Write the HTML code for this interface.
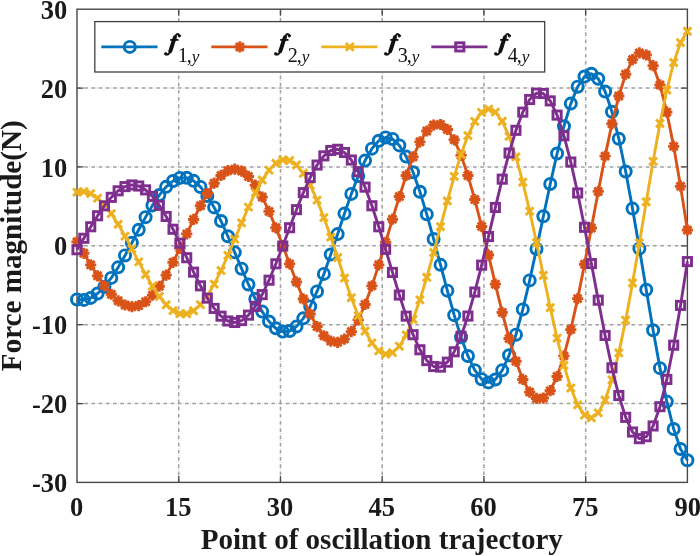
<!DOCTYPE html><html><head><meta charset="utf-8"><style>html,body{margin:0;padding:0;background:#fff}</style></head><body><svg width="700" height="556" viewBox="0 0 700 556" style="display:block;will-change:transform;opacity:0.999;font-family:'Liberation Serif',serif"><rect width="700" height="556" fill="#fff"/><path d="M178.73 482.4V9.2M280.47 482.4V9.2M382.20 482.4V9.2M483.93 482.4V9.2M585.67 482.4V9.2M77.0 403.53H687.4M77.0 324.67H687.4M77.0 245.80H687.4M77.0 166.93H687.4M77.0 88.07H687.4" stroke="#a0a0a0" stroke-width="1.5" stroke-dasharray="3.7 1.6 0.3 1.6" fill="none"/><rect x="77.0" y="9.2" width="610.4" height="473.2" fill="none" stroke="#484848" stroke-width="1.4"/><path d="M178.73 482.4v-6.5M178.73 9.2v6.5M280.47 482.4v-6.5M280.47 9.2v6.5M382.20 482.4v-6.5M382.20 9.2v6.5M483.93 482.4v-6.5M483.93 9.2v6.5M585.67 482.4v-6.5M585.67 9.2v6.5M77.0 403.53h6.5M687.4 403.53h-6.5M77.0 324.67h6.5M687.4 324.67h-6.5M77.0 245.80h6.5M687.4 245.80h-6.5M77.0 166.93h6.5M687.4 166.93h-6.5M77.0 88.07h6.5M687.4 88.07h-6.5" stroke="#484848" stroke-width="1.3" fill="none"/><defs><clipPath id="c"><rect x="69.0" y="1.1999999999999993" width="626.4" height="489.2"/></clipPath></defs><g clip-path="url(#c)"><path d="M77.00 299.44L83.86 299.91L90.72 297.92L97.58 293.49L104.43 286.75L111.29 277.92L118.15 267.35L125.01 255.46L131.87 242.75L138.73 229.78L145.58 217.13L152.44 205.39L159.30 195.12L166.16 186.84L173.02 180.99L179.88 177.91L186.73 177.83L193.59 180.85L200.45 186.93L207.31 195.89L214.17 207.41L221.03 221.05L227.89 236.25L234.74 252.36L241.60 268.68L248.46 284.48L255.32 299.01L262.18 311.58L269.04 321.53L275.89 328.35L282.75 331.62L289.61 331.07L296.47 326.61L303.33 318.33L310.19 306.47L317.04 291.47L323.90 273.91L330.76 254.51L337.62 234.10L344.48 213.58L351.34 193.88L358.20 175.93L365.05 160.59L371.91 148.66L378.77 140.79L385.63 137.46L392.49 138.97L399.35 145.40L406.20 156.61L413.06 172.26L419.92 191.75L426.78 214.33L433.64 239.05L440.50 264.87L447.36 290.63L454.21 315.17L461.07 337.31L467.93 355.98L474.79 370.21L481.65 379.21L488.51 382.41L495.36 379.48L502.22 370.35L509.08 355.25L515.94 334.68L522.80 309.40L529.66 280.42L536.51 248.94L543.37 216.32L550.23 184.02L557.09 153.51L563.95 126.25L570.81 103.59L577.67 86.69L584.52 76.53L591.38 73.77L598.24 78.77L605.10 91.55L611.96 111.77L618.82 138.76L625.67 171.48L632.53 208.62L639.39 248.64L646.25 289.80L653.11 330.25L659.97 368.13L666.82 401.62L673.68 429.06L680.54 449.00L687.40 460.30" stroke="#0072BD" stroke-width="2.9" fill="none" stroke-linejoin="round"/><circle cx="77.00" cy="299.44" r="5.55" fill="none" stroke="#0072BD" stroke-width="2.9"/><circle cx="83.86" cy="299.91" r="5.55" fill="none" stroke="#0072BD" stroke-width="2.9"/><circle cx="90.72" cy="297.92" r="5.55" fill="none" stroke="#0072BD" stroke-width="2.9"/><circle cx="97.58" cy="293.49" r="5.55" fill="none" stroke="#0072BD" stroke-width="2.9"/><circle cx="104.43" cy="286.75" r="5.55" fill="none" stroke="#0072BD" stroke-width="2.9"/><circle cx="111.29" cy="277.92" r="5.55" fill="none" stroke="#0072BD" stroke-width="2.9"/><circle cx="118.15" cy="267.35" r="5.55" fill="none" stroke="#0072BD" stroke-width="2.9"/><circle cx="125.01" cy="255.46" r="5.55" fill="none" stroke="#0072BD" stroke-width="2.9"/><circle cx="131.87" cy="242.75" r="5.55" fill="none" stroke="#0072BD" stroke-width="2.9"/><circle cx="138.73" cy="229.78" r="5.55" fill="none" stroke="#0072BD" stroke-width="2.9"/><circle cx="145.58" cy="217.13" r="5.55" fill="none" stroke="#0072BD" stroke-width="2.9"/><circle cx="152.44" cy="205.39" r="5.55" fill="none" stroke="#0072BD" stroke-width="2.9"/><circle cx="159.30" cy="195.12" r="5.55" fill="none" stroke="#0072BD" stroke-width="2.9"/><circle cx="166.16" cy="186.84" r="5.55" fill="none" stroke="#0072BD" stroke-width="2.9"/><circle cx="173.02" cy="180.99" r="5.55" fill="none" stroke="#0072BD" stroke-width="2.9"/><circle cx="179.88" cy="177.91" r="5.55" fill="none" stroke="#0072BD" stroke-width="2.9"/><circle cx="186.73" cy="177.83" r="5.55" fill="none" stroke="#0072BD" stroke-width="2.9"/><circle cx="193.59" cy="180.85" r="5.55" fill="none" stroke="#0072BD" stroke-width="2.9"/><circle cx="200.45" cy="186.93" r="5.55" fill="none" stroke="#0072BD" stroke-width="2.9"/><circle cx="207.31" cy="195.89" r="5.55" fill="none" stroke="#0072BD" stroke-width="2.9"/><circle cx="214.17" cy="207.41" r="5.55" fill="none" stroke="#0072BD" stroke-width="2.9"/><circle cx="221.03" cy="221.05" r="5.55" fill="none" stroke="#0072BD" stroke-width="2.9"/><circle cx="227.89" cy="236.25" r="5.55" fill="none" stroke="#0072BD" stroke-width="2.9"/><circle cx="234.74" cy="252.36" r="5.55" fill="none" stroke="#0072BD" stroke-width="2.9"/><circle cx="241.60" cy="268.68" r="5.55" fill="none" stroke="#0072BD" stroke-width="2.9"/><circle cx="248.46" cy="284.48" r="5.55" fill="none" stroke="#0072BD" stroke-width="2.9"/><circle cx="255.32" cy="299.01" r="5.55" fill="none" stroke="#0072BD" stroke-width="2.9"/><circle cx="262.18" cy="311.58" r="5.55" fill="none" stroke="#0072BD" stroke-width="2.9"/><circle cx="269.04" cy="321.53" r="5.55" fill="none" stroke="#0072BD" stroke-width="2.9"/><circle cx="275.89" cy="328.35" r="5.55" fill="none" stroke="#0072BD" stroke-width="2.9"/><circle cx="282.75" cy="331.62" r="5.55" fill="none" stroke="#0072BD" stroke-width="2.9"/><circle cx="289.61" cy="331.07" r="5.55" fill="none" stroke="#0072BD" stroke-width="2.9"/><circle cx="296.47" cy="326.61" r="5.55" fill="none" stroke="#0072BD" stroke-width="2.9"/><circle cx="303.33" cy="318.33" r="5.55" fill="none" stroke="#0072BD" stroke-width="2.9"/><circle cx="310.19" cy="306.47" r="5.55" fill="none" stroke="#0072BD" stroke-width="2.9"/><circle cx="317.04" cy="291.47" r="5.55" fill="none" stroke="#0072BD" stroke-width="2.9"/><circle cx="323.90" cy="273.91" r="5.55" fill="none" stroke="#0072BD" stroke-width="2.9"/><circle cx="330.76" cy="254.51" r="5.55" fill="none" stroke="#0072BD" stroke-width="2.9"/><circle cx="337.62" cy="234.10" r="5.55" fill="none" stroke="#0072BD" stroke-width="2.9"/><circle cx="344.48" cy="213.58" r="5.55" fill="none" stroke="#0072BD" stroke-width="2.9"/><circle cx="351.34" cy="193.88" r="5.55" fill="none" stroke="#0072BD" stroke-width="2.9"/><circle cx="358.20" cy="175.93" r="5.55" fill="none" stroke="#0072BD" stroke-width="2.9"/><circle cx="365.05" cy="160.59" r="5.55" fill="none" stroke="#0072BD" stroke-width="2.9"/><circle cx="371.91" cy="148.66" r="5.55" fill="none" stroke="#0072BD" stroke-width="2.9"/><circle cx="378.77" cy="140.79" r="5.55" fill="none" stroke="#0072BD" stroke-width="2.9"/><circle cx="385.63" cy="137.46" r="5.55" fill="none" stroke="#0072BD" stroke-width="2.9"/><circle cx="392.49" cy="138.97" r="5.55" fill="none" stroke="#0072BD" stroke-width="2.9"/><circle cx="399.35" cy="145.40" r="5.55" fill="none" stroke="#0072BD" stroke-width="2.9"/><circle cx="406.20" cy="156.61" r="5.55" fill="none" stroke="#0072BD" stroke-width="2.9"/><circle cx="413.06" cy="172.26" r="5.55" fill="none" stroke="#0072BD" stroke-width="2.9"/><circle cx="419.92" cy="191.75" r="5.55" fill="none" stroke="#0072BD" stroke-width="2.9"/><circle cx="426.78" cy="214.33" r="5.55" fill="none" stroke="#0072BD" stroke-width="2.9"/><circle cx="433.64" cy="239.05" r="5.55" fill="none" stroke="#0072BD" stroke-width="2.9"/><circle cx="440.50" cy="264.87" r="5.55" fill="none" stroke="#0072BD" stroke-width="2.9"/><circle cx="447.36" cy="290.63" r="5.55" fill="none" stroke="#0072BD" stroke-width="2.9"/><circle cx="454.21" cy="315.17" r="5.55" fill="none" stroke="#0072BD" stroke-width="2.9"/><circle cx="461.07" cy="337.31" r="5.55" fill="none" stroke="#0072BD" stroke-width="2.9"/><circle cx="467.93" cy="355.98" r="5.55" fill="none" stroke="#0072BD" stroke-width="2.9"/><circle cx="474.79" cy="370.21" r="5.55" fill="none" stroke="#0072BD" stroke-width="2.9"/><circle cx="481.65" cy="379.21" r="5.55" fill="none" stroke="#0072BD" stroke-width="2.9"/><circle cx="488.51" cy="382.41" r="5.55" fill="none" stroke="#0072BD" stroke-width="2.9"/><circle cx="495.36" cy="379.48" r="5.55" fill="none" stroke="#0072BD" stroke-width="2.9"/><circle cx="502.22" cy="370.35" r="5.55" fill="none" stroke="#0072BD" stroke-width="2.9"/><circle cx="509.08" cy="355.25" r="5.55" fill="none" stroke="#0072BD" stroke-width="2.9"/><circle cx="515.94" cy="334.68" r="5.55" fill="none" stroke="#0072BD" stroke-width="2.9"/><circle cx="522.80" cy="309.40" r="5.55" fill="none" stroke="#0072BD" stroke-width="2.9"/><circle cx="529.66" cy="280.42" r="5.55" fill="none" stroke="#0072BD" stroke-width="2.9"/><circle cx="536.51" cy="248.94" r="5.55" fill="none" stroke="#0072BD" stroke-width="2.9"/><circle cx="543.37" cy="216.32" r="5.55" fill="none" stroke="#0072BD" stroke-width="2.9"/><circle cx="550.23" cy="184.02" r="5.55" fill="none" stroke="#0072BD" stroke-width="2.9"/><circle cx="557.09" cy="153.51" r="5.55" fill="none" stroke="#0072BD" stroke-width="2.9"/><circle cx="563.95" cy="126.25" r="5.55" fill="none" stroke="#0072BD" stroke-width="2.9"/><circle cx="570.81" cy="103.59" r="5.55" fill="none" stroke="#0072BD" stroke-width="2.9"/><circle cx="577.67" cy="86.69" r="5.55" fill="none" stroke="#0072BD" stroke-width="2.9"/><circle cx="584.52" cy="76.53" r="5.55" fill="none" stroke="#0072BD" stroke-width="2.9"/><circle cx="591.38" cy="73.77" r="5.55" fill="none" stroke="#0072BD" stroke-width="2.9"/><circle cx="598.24" cy="78.77" r="5.55" fill="none" stroke="#0072BD" stroke-width="2.9"/><circle cx="605.10" cy="91.55" r="5.55" fill="none" stroke="#0072BD" stroke-width="2.9"/><circle cx="611.96" cy="111.77" r="5.55" fill="none" stroke="#0072BD" stroke-width="2.9"/><circle cx="618.82" cy="138.76" r="5.55" fill="none" stroke="#0072BD" stroke-width="2.9"/><circle cx="625.67" cy="171.48" r="5.55" fill="none" stroke="#0072BD" stroke-width="2.9"/><circle cx="632.53" cy="208.62" r="5.55" fill="none" stroke="#0072BD" stroke-width="2.9"/><circle cx="639.39" cy="248.64" r="5.55" fill="none" stroke="#0072BD" stroke-width="2.9"/><circle cx="646.25" cy="289.80" r="5.55" fill="none" stroke="#0072BD" stroke-width="2.9"/><circle cx="653.11" cy="330.25" r="5.55" fill="none" stroke="#0072BD" stroke-width="2.9"/><circle cx="659.97" cy="368.13" r="5.55" fill="none" stroke="#0072BD" stroke-width="2.9"/><circle cx="666.82" cy="401.62" r="5.55" fill="none" stroke="#0072BD" stroke-width="2.9"/><circle cx="673.68" cy="429.06" r="5.55" fill="none" stroke="#0072BD" stroke-width="2.9"/><circle cx="680.54" cy="449.00" r="5.55" fill="none" stroke="#0072BD" stroke-width="2.9"/><circle cx="687.40" cy="460.30" r="5.55" fill="none" stroke="#0072BD" stroke-width="2.9"/></g><g clip-path="url(#c)"><path d="M77.00 241.85L83.86 253.33L90.72 264.83L97.58 275.83L104.43 285.80L111.29 294.26L118.15 300.78L125.01 305.00L131.87 306.65L138.73 305.57L145.58 301.73L152.44 295.22L159.30 286.25L166.16 275.14L173.02 262.35L179.88 248.39L186.73 233.88L193.59 219.45L200.45 205.77L207.31 193.48L214.17 183.19L221.03 175.43L227.89 170.64L234.74 169.13L241.60 171.06L248.46 176.47L255.32 185.22L262.18 197.00L269.04 211.39L275.89 227.80L282.75 245.55L289.61 263.88L296.47 281.96L303.33 298.96L310.19 314.07L317.04 326.55L323.90 335.73L330.76 341.10L337.62 342.30L344.48 339.12L351.34 331.59L358.20 319.91L365.05 304.47L371.91 285.86L378.77 264.84L385.63 242.29L392.49 219.18L399.35 196.56L406.20 175.46L413.06 156.91L419.92 141.83L426.78 131.02L433.64 125.10L440.50 124.51L447.36 129.43L454.21 139.82L461.07 155.37L467.93 175.54L474.79 199.56L481.65 226.44L488.51 255.06L495.36 284.16L502.22 312.44L509.08 338.56L515.94 361.28L522.80 379.45L529.66 392.09L536.51 398.46L543.37 398.06L550.23 390.70L557.09 376.50L563.95 355.88L570.81 329.58L577.67 298.63L584.52 264.29L591.38 228.02L598.24 191.41L605.10 156.13L611.96 123.82L618.82 96.06L625.67 74.25L632.53 59.58L639.39 52.95L646.25 54.91L653.11 65.64L659.97 84.93L666.82 112.17L673.68 146.38L680.54 186.20L687.40 230.01" stroke="#D95319" stroke-width="2.9" fill="none" stroke-linejoin="round"/><path d="M71.40 241.85H82.60M77.00 236.25V247.45M73.04 237.89L80.96 245.81M73.04 245.81L80.96 237.89" stroke="#D95319" stroke-width="2.9" fill="none"/><path d="M78.26 253.33H89.46M83.86 247.73V258.93M79.90 249.37L87.82 257.29M79.90 257.29L87.82 249.37" stroke="#D95319" stroke-width="2.9" fill="none"/><path d="M85.12 264.83H96.32M90.72 259.23V270.43M86.76 260.87L94.68 268.79M86.76 268.79L94.68 260.87" stroke="#D95319" stroke-width="2.9" fill="none"/><path d="M91.98 275.83H103.18M97.58 270.23V281.43M93.62 271.87L101.54 279.79M93.62 279.79L101.54 271.87" stroke="#D95319" stroke-width="2.9" fill="none"/><path d="M98.83 285.80H110.03M104.43 280.20V291.40M100.47 281.84L108.39 289.76M100.47 289.76L108.39 281.84" stroke="#D95319" stroke-width="2.9" fill="none"/><path d="M105.69 294.26H116.89M111.29 288.66V299.86M107.33 290.30L115.25 298.22M107.33 298.22L115.25 290.30" stroke="#D95319" stroke-width="2.9" fill="none"/><path d="M112.55 300.78H123.75M118.15 295.18V306.38M114.19 296.82L122.11 304.74M114.19 304.74L122.11 296.82" stroke="#D95319" stroke-width="2.9" fill="none"/><path d="M119.41 305.00H130.61M125.01 299.40V310.60M121.05 301.04L128.97 308.96M121.05 308.96L128.97 301.04" stroke="#D95319" stroke-width="2.9" fill="none"/><path d="M126.27 306.65H137.47M131.87 301.05V312.25M127.91 302.69L135.83 310.61M127.91 310.61L135.83 302.69" stroke="#D95319" stroke-width="2.9" fill="none"/><path d="M133.13 305.57H144.33M138.73 299.97V311.17M134.77 301.61L142.69 309.53M134.77 309.53L142.69 301.61" stroke="#D95319" stroke-width="2.9" fill="none"/><path d="M139.98 301.73H151.18M145.58 296.13V307.33M141.62 297.77L149.54 305.69M141.62 305.69L149.54 297.77" stroke="#D95319" stroke-width="2.9" fill="none"/><path d="M146.84 295.22H158.04M152.44 289.62V300.82M148.48 291.26L156.40 299.18M148.48 299.18L156.40 291.26" stroke="#D95319" stroke-width="2.9" fill="none"/><path d="M153.70 286.25H164.90M159.30 280.65V291.85M155.34 282.29L163.26 290.21M155.34 290.21L163.26 282.29" stroke="#D95319" stroke-width="2.9" fill="none"/><path d="M160.56 275.14H171.76M166.16 269.54V280.74M162.20 271.18L170.12 279.10M162.20 279.10L170.12 271.18" stroke="#D95319" stroke-width="2.9" fill="none"/><path d="M167.42 262.35H178.62M173.02 256.75V267.95M169.06 258.39L176.98 266.31M169.06 266.31L176.98 258.39" stroke="#D95319" stroke-width="2.9" fill="none"/><path d="M174.28 248.39H185.48M179.88 242.79V253.99M175.92 244.44L183.84 252.35M175.92 252.35L183.84 244.44" stroke="#D95319" stroke-width="2.9" fill="none"/><path d="M181.13 233.88H192.33M186.73 228.28V239.48M182.78 229.92L190.69 237.84M182.78 237.84L190.69 229.92" stroke="#D95319" stroke-width="2.9" fill="none"/><path d="M187.99 219.45H199.19M193.59 213.85V225.05M189.63 215.49L197.55 223.41M189.63 223.41L197.55 215.49" stroke="#D95319" stroke-width="2.9" fill="none"/><path d="M194.85 205.77H206.05M200.45 200.17V211.37M196.49 201.81L204.41 209.73M196.49 209.73L204.41 201.81" stroke="#D95319" stroke-width="2.9" fill="none"/><path d="M201.71 193.48H212.91M207.31 187.88V199.08M203.35 189.52L211.27 197.44M203.35 197.44L211.27 189.52" stroke="#D95319" stroke-width="2.9" fill="none"/><path d="M208.57 183.19H219.77M214.17 177.59V188.79M210.21 179.23L218.13 187.15M210.21 187.15L218.13 179.23" stroke="#D95319" stroke-width="2.9" fill="none"/><path d="M215.43 175.43H226.63M221.03 169.83V181.03M217.07 171.47L224.99 179.39M217.07 179.39L224.99 171.47" stroke="#D95319" stroke-width="2.9" fill="none"/><path d="M222.29 170.64H233.49M227.89 165.04V176.24M223.93 166.68L231.85 174.60M223.93 174.60L231.85 166.68" stroke="#D95319" stroke-width="2.9" fill="none"/><path d="M229.14 169.13H240.34M234.74 163.53V174.73M230.78 165.17L238.70 173.09M230.78 173.09L238.70 165.17" stroke="#D95319" stroke-width="2.9" fill="none"/><path d="M236.00 171.06H247.20M241.60 165.46V176.66M237.64 167.10L245.56 175.02M237.64 175.02L245.56 167.10" stroke="#D95319" stroke-width="2.9" fill="none"/><path d="M242.86 176.47H254.06M248.46 170.87V182.07M244.50 172.51L252.42 180.43M244.50 180.43L252.42 172.51" stroke="#D95319" stroke-width="2.9" fill="none"/><path d="M249.72 185.22H260.92M255.32 179.62V190.82M251.36 181.26L259.28 189.18M251.36 189.18L259.28 181.26" stroke="#D95319" stroke-width="2.9" fill="none"/><path d="M256.58 197.00H267.78M262.18 191.40V202.60M258.22 193.04L266.14 200.96M258.22 200.96L266.14 193.04" stroke="#D95319" stroke-width="2.9" fill="none"/><path d="M263.44 211.39H274.64M269.04 205.79V216.99M265.08 207.43L273.00 215.35M265.08 215.35L273.00 207.43" stroke="#D95319" stroke-width="2.9" fill="none"/><path d="M270.29 227.80H281.49M275.89 222.20V233.40M271.93 223.84L279.85 231.76M271.93 231.76L279.85 223.84" stroke="#D95319" stroke-width="2.9" fill="none"/><path d="M277.15 245.55H288.35M282.75 239.95V251.15M278.79 241.59L286.71 249.51M278.79 249.51L286.71 241.59" stroke="#D95319" stroke-width="2.9" fill="none"/><path d="M284.01 263.88H295.21M289.61 258.28V269.48M285.65 259.92L293.57 267.84M285.65 267.84L293.57 259.92" stroke="#D95319" stroke-width="2.9" fill="none"/><path d="M290.87 281.96H302.07M296.47 276.36V287.56M292.51 278.00L300.43 285.92M292.51 285.92L300.43 278.00" stroke="#D95319" stroke-width="2.9" fill="none"/><path d="M297.73 298.96H308.93M303.33 293.36V304.56M299.37 295.00L307.29 302.92M299.37 302.92L307.29 295.00" stroke="#D95319" stroke-width="2.9" fill="none"/><path d="M304.59 314.07H315.79M310.19 308.47V319.67M306.23 310.11L314.15 318.03M306.23 318.03L314.15 310.11" stroke="#D95319" stroke-width="2.9" fill="none"/><path d="M311.44 326.55H322.64M317.04 320.95V332.15M313.09 322.59L321.00 330.51M313.09 330.51L321.00 322.59" stroke="#D95319" stroke-width="2.9" fill="none"/><path d="M318.30 335.73H329.50M323.90 330.13V341.33M319.94 331.77L327.86 339.69M319.94 339.69L327.86 331.77" stroke="#D95319" stroke-width="2.9" fill="none"/><path d="M325.16 341.10H336.36M330.76 335.50V346.70M326.80 337.14L334.72 345.06M326.80 345.06L334.72 337.14" stroke="#D95319" stroke-width="2.9" fill="none"/><path d="M332.02 342.30H343.22M337.62 336.70V347.90M333.66 338.34L341.58 346.26M333.66 346.26L341.58 338.34" stroke="#D95319" stroke-width="2.9" fill="none"/><path d="M338.88 339.12H350.08M344.48 333.52V344.72M340.52 335.16L348.44 343.08M340.52 343.08L348.44 335.16" stroke="#D95319" stroke-width="2.9" fill="none"/><path d="M345.74 331.59H356.94M351.34 325.99V337.19M347.38 327.63L355.30 335.55M347.38 335.55L355.30 327.63" stroke="#D95319" stroke-width="2.9" fill="none"/><path d="M352.60 319.91H363.80M358.20 314.31V325.51M354.24 315.95L362.16 323.86M354.24 323.86L362.16 315.95" stroke="#D95319" stroke-width="2.9" fill="none"/><path d="M359.45 304.47H370.65M365.05 298.87V310.07M361.09 300.51L369.01 308.43M361.09 308.43L369.01 300.51" stroke="#D95319" stroke-width="2.9" fill="none"/><path d="M366.31 285.86H377.51M371.91 280.26V291.46M367.95 281.90L375.87 289.82M367.95 289.82L375.87 281.90" stroke="#D95319" stroke-width="2.9" fill="none"/><path d="M373.17 264.84H384.37M378.77 259.24V270.44M374.81 260.88L382.73 268.80M374.81 268.80L382.73 260.88" stroke="#D95319" stroke-width="2.9" fill="none"/><path d="M380.03 242.29H391.23M385.63 236.69V247.89M381.67 238.33L389.59 246.25M381.67 246.25L389.59 238.33" stroke="#D95319" stroke-width="2.9" fill="none"/><path d="M386.89 219.18H398.09M392.49 213.58V224.78M388.53 215.22L396.45 223.14M388.53 223.14L396.45 215.22" stroke="#D95319" stroke-width="2.9" fill="none"/><path d="M393.75 196.56H404.95M399.35 190.96V202.16M395.39 192.60L403.31 200.52M395.39 200.52L403.31 192.60" stroke="#D95319" stroke-width="2.9" fill="none"/><path d="M400.60 175.46H411.80M406.20 169.86V181.06M402.24 171.50L410.16 179.42M402.24 179.42L410.16 171.50" stroke="#D95319" stroke-width="2.9" fill="none"/><path d="M407.46 156.91H418.66M413.06 151.31V162.51M409.10 152.95L417.02 160.87M409.10 160.87L417.02 152.95" stroke="#D95319" stroke-width="2.9" fill="none"/><path d="M414.32 141.83H425.52M419.92 136.23V147.43M415.96 137.87L423.88 145.79M415.96 145.79L423.88 137.87" stroke="#D95319" stroke-width="2.9" fill="none"/><path d="M421.18 131.02H432.38M426.78 125.42V136.62M422.82 127.06L430.74 134.98M422.82 134.98L430.74 127.06" stroke="#D95319" stroke-width="2.9" fill="none"/><path d="M428.04 125.10H439.24M433.64 119.50V130.70M429.68 121.14L437.60 129.06M429.68 129.06L437.60 121.14" stroke="#D95319" stroke-width="2.9" fill="none"/><path d="M434.90 124.51H446.10M440.50 118.91V130.11M436.54 120.55L444.46 128.47M436.54 128.47L444.46 120.55" stroke="#D95319" stroke-width="2.9" fill="none"/><path d="M441.76 129.43H452.96M447.36 123.83V135.03M443.40 125.47L451.31 133.39M443.40 133.39L451.31 125.47" stroke="#D95319" stroke-width="2.9" fill="none"/><path d="M448.61 139.82H459.81M454.21 134.22V145.42M450.25 135.86L458.17 143.78M450.25 143.78L458.17 135.86" stroke="#D95319" stroke-width="2.9" fill="none"/><path d="M455.47 155.37H466.67M461.07 149.77V160.97M457.11 151.41L465.03 159.33M457.11 159.33L465.03 151.41" stroke="#D95319" stroke-width="2.9" fill="none"/><path d="M462.33 175.54H473.53M467.93 169.94V181.14M463.97 171.58L471.89 179.50M463.97 179.50L471.89 171.58" stroke="#D95319" stroke-width="2.9" fill="none"/><path d="M469.19 199.56H480.39M474.79 193.96V205.16M470.83 195.60L478.75 203.52M470.83 203.52L478.75 195.60" stroke="#D95319" stroke-width="2.9" fill="none"/><path d="M476.05 226.44H487.25M481.65 220.84V232.04M477.69 222.48L485.61 230.40M477.69 230.40L485.61 222.48" stroke="#D95319" stroke-width="2.9" fill="none"/><path d="M482.91 255.06H494.11M488.51 249.46V260.66M484.55 251.10L492.47 259.02M484.55 259.02L492.47 251.10" stroke="#D95319" stroke-width="2.9" fill="none"/><path d="M489.76 284.16H500.96M495.36 278.56V289.76M491.40 280.20L499.32 288.12M491.40 288.12L499.32 280.20" stroke="#D95319" stroke-width="2.9" fill="none"/><path d="M496.62 312.44H507.82M502.22 306.84V318.04M498.26 308.48L506.18 316.40M498.26 316.40L506.18 308.48" stroke="#D95319" stroke-width="2.9" fill="none"/><path d="M503.48 338.56H514.68M509.08 332.96V344.16M505.12 334.60L513.04 342.52M505.12 342.52L513.04 334.60" stroke="#D95319" stroke-width="2.9" fill="none"/><path d="M510.34 361.28H521.54M515.94 355.68V366.88M511.98 357.32L519.90 365.24M511.98 365.24L519.90 357.32" stroke="#D95319" stroke-width="2.9" fill="none"/><path d="M517.20 379.45H528.40M522.80 373.85V385.05M518.84 375.49L526.76 383.41M518.84 383.41L526.76 375.49" stroke="#D95319" stroke-width="2.9" fill="none"/><path d="M524.06 392.09H535.26M529.66 386.49V397.69M525.70 388.13L533.62 396.05M525.70 396.05L533.62 388.13" stroke="#D95319" stroke-width="2.9" fill="none"/><path d="M530.91 398.46H542.11M536.51 392.86V404.06M532.55 394.50L540.47 402.42M532.55 402.42L540.47 394.50" stroke="#D95319" stroke-width="2.9" fill="none"/><path d="M537.77 398.06H548.97M543.37 392.46V403.66M539.41 394.10L547.33 402.02M539.41 402.02L547.33 394.10" stroke="#D95319" stroke-width="2.9" fill="none"/><path d="M544.63 390.70H555.83M550.23 385.10V396.30M546.27 386.74L554.19 394.66M546.27 394.66L554.19 386.74" stroke="#D95319" stroke-width="2.9" fill="none"/><path d="M551.49 376.50H562.69M557.09 370.90V382.10M553.13 372.54L561.05 380.46M553.13 380.46L561.05 372.54" stroke="#D95319" stroke-width="2.9" fill="none"/><path d="M558.35 355.88H569.55M563.95 350.28V361.48M559.99 351.92L567.91 359.84M559.99 359.84L567.91 351.92" stroke="#D95319" stroke-width="2.9" fill="none"/><path d="M565.21 329.58H576.41M570.81 323.98V335.18M566.85 325.62L574.77 333.54M566.85 333.54L574.77 325.62" stroke="#D95319" stroke-width="2.9" fill="none"/><path d="M572.07 298.63H583.27M577.67 293.03V304.23M573.71 294.67L581.62 302.59M573.71 302.59L581.62 294.67" stroke="#D95319" stroke-width="2.9" fill="none"/><path d="M578.92 264.29H590.12M584.52 258.69V269.89M580.56 260.33L588.48 268.25M580.56 268.25L588.48 260.33" stroke="#D95319" stroke-width="2.9" fill="none"/><path d="M585.78 228.02H596.98M591.38 222.42V233.62M587.42 224.06L595.34 231.98M587.42 231.98L595.34 224.06" stroke="#D95319" stroke-width="2.9" fill="none"/><path d="M592.64 191.41H603.84M598.24 185.81V197.01M594.28 187.45L602.20 195.37M594.28 195.37L602.20 187.45" stroke="#D95319" stroke-width="2.9" fill="none"/><path d="M599.50 156.13H610.70M605.10 150.53V161.73M601.14 152.17L609.06 160.09M601.14 160.09L609.06 152.17" stroke="#D95319" stroke-width="2.9" fill="none"/><path d="M606.36 123.82H617.56M611.96 118.22V129.42M608.00 119.86L615.92 127.78M608.00 127.78L615.92 119.86" stroke="#D95319" stroke-width="2.9" fill="none"/><path d="M613.22 96.06H624.42M618.82 90.46V101.66M614.86 92.10L622.78 100.02M614.86 100.02L622.78 92.10" stroke="#D95319" stroke-width="2.9" fill="none"/><path d="M620.07 74.25H631.27M625.67 68.65V79.85M621.71 70.29L629.63 78.21M621.71 78.21L629.63 70.29" stroke="#D95319" stroke-width="2.9" fill="none"/><path d="M626.93 59.58H638.13M632.53 53.98V65.18M628.57 55.62L636.49 63.54M628.57 63.54L636.49 55.62" stroke="#D95319" stroke-width="2.9" fill="none"/><path d="M633.79 52.95H644.99M639.39 47.35V58.55M635.43 48.99L643.35 56.91M635.43 56.91L643.35 48.99" stroke="#D95319" stroke-width="2.9" fill="none"/><path d="M640.65 54.91H651.85M646.25 49.31V60.51M642.29 50.95L650.21 58.87M642.29 58.87L650.21 50.95" stroke="#D95319" stroke-width="2.9" fill="none"/><path d="M647.51 65.64H658.71M653.11 60.04V71.24M649.15 61.68L657.07 69.60M649.15 69.60L657.07 61.68" stroke="#D95319" stroke-width="2.9" fill="none"/><path d="M654.37 84.93H665.57M659.97 79.33V90.53M656.01 80.97L663.93 88.89M656.01 88.89L663.93 80.97" stroke="#D95319" stroke-width="2.9" fill="none"/><path d="M661.22 112.17H672.42M666.82 106.57V117.77M662.86 108.21L670.78 116.13M662.86 116.13L670.78 108.21" stroke="#D95319" stroke-width="2.9" fill="none"/><path d="M668.08 146.38H679.28M673.68 140.78V151.98M669.72 142.42L677.64 150.34M669.72 150.34L677.64 142.42" stroke="#D95319" stroke-width="2.9" fill="none"/><path d="M674.94 186.20H686.14M680.54 180.60V191.80M676.58 182.24L684.50 190.16M676.58 190.16L684.50 182.24" stroke="#D95319" stroke-width="2.9" fill="none"/><path d="M681.80 230.01H693.00M687.40 224.41V235.61M683.44 226.05L691.36 233.97M683.44 233.97L691.36 226.05" stroke="#D95319" stroke-width="2.9" fill="none"/></g><g clip-path="url(#c)"><path d="M77.00 192.16L83.86 191.69L90.72 193.68L97.58 198.11L104.43 204.85L111.29 213.68L118.15 224.25L125.01 236.14L131.87 248.85L138.73 261.82L145.58 274.47L152.44 286.21L159.30 296.48L166.16 304.76L173.02 310.61L179.88 313.69L186.73 313.77L193.59 310.75L200.45 304.67L207.31 295.71L214.17 284.19L221.03 270.55L227.89 255.35L234.74 239.24L241.60 222.92L248.46 207.12L255.32 192.59L262.18 180.02L269.04 170.07L275.89 163.25L282.75 159.98L289.61 160.53L296.47 164.99L303.33 173.27L310.19 185.13L317.04 200.13L323.90 217.69L330.76 237.09L337.62 257.50L344.48 278.02L351.34 297.72L358.20 315.67L365.05 331.01L371.91 342.94L378.77 350.81L385.63 354.14L392.49 352.63L399.35 346.20L406.20 334.99L413.06 319.34L419.92 299.85L426.78 277.27L433.64 252.55L440.50 226.73L447.36 200.97L454.21 176.43L461.07 154.29L467.93 135.62L474.79 121.39L481.65 112.39L488.51 109.19L495.36 112.12L502.22 121.25L509.08 136.35L515.94 156.92L522.80 182.20L529.66 211.18L536.51 242.66L543.37 275.28L550.23 307.58L557.09 338.09L563.95 365.35L570.81 388.01L577.67 404.91L584.52 415.07L591.38 417.83L598.24 412.83L605.10 400.05L611.96 379.83L618.82 352.84L625.67 320.12L632.53 282.98L639.39 242.96L646.25 201.80L653.11 161.35L659.97 123.47L666.82 89.98L673.68 62.54L680.54 42.60L687.40 31.30" stroke="#EDB120" stroke-width="2.9" fill="none" stroke-linejoin="round"/><path d="M73.10 188.26L80.90 196.06M73.10 196.06L80.90 188.26" stroke="#EDB120" stroke-width="2.9" fill="none"/><path d="M79.96 187.79L87.76 195.59M79.96 195.59L87.76 187.79" stroke="#EDB120" stroke-width="2.9" fill="none"/><path d="M86.82 189.78L94.62 197.58M86.82 197.58L94.62 189.78" stroke="#EDB120" stroke-width="2.9" fill="none"/><path d="M93.68 194.21L101.48 202.01M93.68 202.01L101.48 194.21" stroke="#EDB120" stroke-width="2.9" fill="none"/><path d="M100.53 200.95L108.33 208.75M100.53 208.75L108.33 200.95" stroke="#EDB120" stroke-width="2.9" fill="none"/><path d="M107.39 209.78L115.19 217.58M107.39 217.58L115.19 209.78" stroke="#EDB120" stroke-width="2.9" fill="none"/><path d="M114.25 220.35L122.05 228.15M114.25 228.15L122.05 220.35" stroke="#EDB120" stroke-width="2.9" fill="none"/><path d="M121.11 232.24L128.91 240.04M121.11 240.04L128.91 232.24" stroke="#EDB120" stroke-width="2.9" fill="none"/><path d="M127.97 244.95L135.77 252.75M127.97 252.75L135.77 244.95" stroke="#EDB120" stroke-width="2.9" fill="none"/><path d="M134.83 257.92L142.63 265.72M134.83 265.72L142.63 257.92" stroke="#EDB120" stroke-width="2.9" fill="none"/><path d="M141.68 270.57L149.48 278.37M141.68 278.37L149.48 270.57" stroke="#EDB120" stroke-width="2.9" fill="none"/><path d="M148.54 282.31L156.34 290.11M148.54 290.11L156.34 282.31" stroke="#EDB120" stroke-width="2.9" fill="none"/><path d="M155.40 292.58L163.20 300.38M155.40 300.38L163.20 292.58" stroke="#EDB120" stroke-width="2.9" fill="none"/><path d="M162.26 300.86L170.06 308.66M162.26 308.66L170.06 300.86" stroke="#EDB120" stroke-width="2.9" fill="none"/><path d="M169.12 306.71L176.92 314.51M169.12 314.51L176.92 306.71" stroke="#EDB120" stroke-width="2.9" fill="none"/><path d="M175.98 309.79L183.78 317.59M175.98 317.59L183.78 309.79" stroke="#EDB120" stroke-width="2.9" fill="none"/><path d="M182.83 309.87L190.63 317.67M182.83 317.67L190.63 309.87" stroke="#EDB120" stroke-width="2.9" fill="none"/><path d="M189.69 306.85L197.49 314.65M189.69 314.65L197.49 306.85" stroke="#EDB120" stroke-width="2.9" fill="none"/><path d="M196.55 300.77L204.35 308.57M196.55 308.57L204.35 300.77" stroke="#EDB120" stroke-width="2.9" fill="none"/><path d="M203.41 291.81L211.21 299.61M203.41 299.61L211.21 291.81" stroke="#EDB120" stroke-width="2.9" fill="none"/><path d="M210.27 280.29L218.07 288.09M210.27 288.09L218.07 280.29" stroke="#EDB120" stroke-width="2.9" fill="none"/><path d="M217.13 266.65L224.93 274.45M217.13 274.45L224.93 266.65" stroke="#EDB120" stroke-width="2.9" fill="none"/><path d="M223.99 251.45L231.79 259.25M223.99 259.25L231.79 251.45" stroke="#EDB120" stroke-width="2.9" fill="none"/><path d="M230.84 235.34L238.64 243.14M230.84 243.14L238.64 235.34" stroke="#EDB120" stroke-width="2.9" fill="none"/><path d="M237.70 219.02L245.50 226.82M237.70 226.82L245.50 219.02" stroke="#EDB120" stroke-width="2.9" fill="none"/><path d="M244.56 203.22L252.36 211.02M244.56 211.02L252.36 203.22" stroke="#EDB120" stroke-width="2.9" fill="none"/><path d="M251.42 188.69L259.22 196.49M251.42 196.49L259.22 188.69" stroke="#EDB120" stroke-width="2.9" fill="none"/><path d="M258.28 176.12L266.08 183.92M258.28 183.92L266.08 176.12" stroke="#EDB120" stroke-width="2.9" fill="none"/><path d="M265.14 166.17L272.94 173.97M265.14 173.97L272.94 166.17" stroke="#EDB120" stroke-width="2.9" fill="none"/><path d="M271.99 159.35L279.79 167.15M271.99 167.15L279.79 159.35" stroke="#EDB120" stroke-width="2.9" fill="none"/><path d="M278.85 156.08L286.65 163.88M278.85 163.88L286.65 156.08" stroke="#EDB120" stroke-width="2.9" fill="none"/><path d="M285.71 156.63L293.51 164.43M285.71 164.43L293.51 156.63" stroke="#EDB120" stroke-width="2.9" fill="none"/><path d="M292.57 161.09L300.37 168.89M292.57 168.89L300.37 161.09" stroke="#EDB120" stroke-width="2.9" fill="none"/><path d="M299.43 169.37L307.23 177.17M299.43 177.17L307.23 169.37" stroke="#EDB120" stroke-width="2.9" fill="none"/><path d="M306.29 181.23L314.09 189.03M306.29 189.03L314.09 181.23" stroke="#EDB120" stroke-width="2.9" fill="none"/><path d="M313.14 196.23L320.94 204.03M313.14 204.03L320.94 196.23" stroke="#EDB120" stroke-width="2.9" fill="none"/><path d="M320.00 213.79L327.80 221.59M320.00 221.59L327.80 213.79" stroke="#EDB120" stroke-width="2.9" fill="none"/><path d="M326.86 233.19L334.66 240.99M326.86 240.99L334.66 233.19" stroke="#EDB120" stroke-width="2.9" fill="none"/><path d="M333.72 253.60L341.52 261.40M333.72 261.40L341.52 253.60" stroke="#EDB120" stroke-width="2.9" fill="none"/><path d="M340.58 274.12L348.38 281.92M340.58 281.92L348.38 274.12" stroke="#EDB120" stroke-width="2.9" fill="none"/><path d="M347.44 293.82L355.24 301.62M347.44 301.62L355.24 293.82" stroke="#EDB120" stroke-width="2.9" fill="none"/><path d="M354.30 311.77L362.10 319.57M354.30 319.57L362.10 311.77" stroke="#EDB120" stroke-width="2.9" fill="none"/><path d="M361.15 327.11L368.95 334.91M361.15 334.91L368.95 327.11" stroke="#EDB120" stroke-width="2.9" fill="none"/><path d="M368.01 339.04L375.81 346.84M368.01 346.84L375.81 339.04" stroke="#EDB120" stroke-width="2.9" fill="none"/><path d="M374.87 346.91L382.67 354.71M374.87 354.71L382.67 346.91" stroke="#EDB120" stroke-width="2.9" fill="none"/><path d="M381.73 350.24L389.53 358.04M381.73 358.04L389.53 350.24" stroke="#EDB120" stroke-width="2.9" fill="none"/><path d="M388.59 348.73L396.39 356.53M388.59 356.53L396.39 348.73" stroke="#EDB120" stroke-width="2.9" fill="none"/><path d="M395.45 342.30L403.25 350.10M395.45 350.10L403.25 342.30" stroke="#EDB120" stroke-width="2.9" fill="none"/><path d="M402.30 331.09L410.10 338.89M402.30 338.89L410.10 331.09" stroke="#EDB120" stroke-width="2.9" fill="none"/><path d="M409.16 315.44L416.96 323.24M409.16 323.24L416.96 315.44" stroke="#EDB120" stroke-width="2.9" fill="none"/><path d="M416.02 295.95L423.82 303.75M416.02 303.75L423.82 295.95" stroke="#EDB120" stroke-width="2.9" fill="none"/><path d="M422.88 273.37L430.68 281.17M422.88 281.17L430.68 273.37" stroke="#EDB120" stroke-width="2.9" fill="none"/><path d="M429.74 248.65L437.54 256.45M429.74 256.45L437.54 248.65" stroke="#EDB120" stroke-width="2.9" fill="none"/><path d="M436.60 222.83L444.40 230.63M436.60 230.63L444.40 222.83" stroke="#EDB120" stroke-width="2.9" fill="none"/><path d="M443.46 197.07L451.26 204.87M443.46 204.87L451.26 197.07" stroke="#EDB120" stroke-width="2.9" fill="none"/><path d="M450.31 172.53L458.11 180.33M450.31 180.33L458.11 172.53" stroke="#EDB120" stroke-width="2.9" fill="none"/><path d="M457.17 150.39L464.97 158.19M457.17 158.19L464.97 150.39" stroke="#EDB120" stroke-width="2.9" fill="none"/><path d="M464.03 131.72L471.83 139.52M464.03 139.52L471.83 131.72" stroke="#EDB120" stroke-width="2.9" fill="none"/><path d="M470.89 117.49L478.69 125.29M470.89 125.29L478.69 117.49" stroke="#EDB120" stroke-width="2.9" fill="none"/><path d="M477.75 108.49L485.55 116.29M477.75 116.29L485.55 108.49" stroke="#EDB120" stroke-width="2.9" fill="none"/><path d="M484.61 105.29L492.41 113.09M484.61 113.09L492.41 105.29" stroke="#EDB120" stroke-width="2.9" fill="none"/><path d="M491.46 108.22L499.26 116.02M491.46 116.02L499.26 108.22" stroke="#EDB120" stroke-width="2.9" fill="none"/><path d="M498.32 117.35L506.12 125.15M498.32 125.15L506.12 117.35" stroke="#EDB120" stroke-width="2.9" fill="none"/><path d="M505.18 132.45L512.98 140.25M505.18 140.25L512.98 132.45" stroke="#EDB120" stroke-width="2.9" fill="none"/><path d="M512.04 153.02L519.84 160.82M512.04 160.82L519.84 153.02" stroke="#EDB120" stroke-width="2.9" fill="none"/><path d="M518.90 178.30L526.70 186.10M518.90 186.10L526.70 178.30" stroke="#EDB120" stroke-width="2.9" fill="none"/><path d="M525.76 207.28L533.56 215.08M525.76 215.08L533.56 207.28" stroke="#EDB120" stroke-width="2.9" fill="none"/><path d="M532.61 238.76L540.41 246.56M532.61 246.56L540.41 238.76" stroke="#EDB120" stroke-width="2.9" fill="none"/><path d="M539.47 271.38L547.27 279.18M539.47 279.18L547.27 271.38" stroke="#EDB120" stroke-width="2.9" fill="none"/><path d="M546.33 303.68L554.13 311.48M546.33 311.48L554.13 303.68" stroke="#EDB120" stroke-width="2.9" fill="none"/><path d="M553.19 334.19L560.99 341.99M553.19 341.99L560.99 334.19" stroke="#EDB120" stroke-width="2.9" fill="none"/><path d="M560.05 361.45L567.85 369.25M560.05 369.25L567.85 361.45" stroke="#EDB120" stroke-width="2.9" fill="none"/><path d="M566.91 384.11L574.71 391.91M566.91 391.91L574.71 384.11" stroke="#EDB120" stroke-width="2.9" fill="none"/><path d="M573.77 401.01L581.57 408.81M573.77 408.81L581.57 401.01" stroke="#EDB120" stroke-width="2.9" fill="none"/><path d="M580.62 411.17L588.42 418.97M580.62 418.97L588.42 411.17" stroke="#EDB120" stroke-width="2.9" fill="none"/><path d="M587.48 413.93L595.28 421.73M587.48 421.73L595.28 413.93" stroke="#EDB120" stroke-width="2.9" fill="none"/><path d="M594.34 408.93L602.14 416.73M594.34 416.73L602.14 408.93" stroke="#EDB120" stroke-width="2.9" fill="none"/><path d="M601.20 396.15L609.00 403.95M601.20 403.95L609.00 396.15" stroke="#EDB120" stroke-width="2.9" fill="none"/><path d="M608.06 375.93L615.86 383.73M608.06 383.73L615.86 375.93" stroke="#EDB120" stroke-width="2.9" fill="none"/><path d="M614.92 348.94L622.72 356.74M614.92 356.74L622.72 348.94" stroke="#EDB120" stroke-width="2.9" fill="none"/><path d="M621.77 316.22L629.57 324.02M621.77 324.02L629.57 316.22" stroke="#EDB120" stroke-width="2.9" fill="none"/><path d="M628.63 279.08L636.43 286.88M628.63 286.88L636.43 279.08" stroke="#EDB120" stroke-width="2.9" fill="none"/><path d="M635.49 239.06L643.29 246.86M635.49 246.86L643.29 239.06" stroke="#EDB120" stroke-width="2.9" fill="none"/><path d="M642.35 197.90L650.15 205.70M642.35 205.70L650.15 197.90" stroke="#EDB120" stroke-width="2.9" fill="none"/><path d="M649.21 157.45L657.01 165.25M649.21 165.25L657.01 157.45" stroke="#EDB120" stroke-width="2.9" fill="none"/><path d="M656.07 119.57L663.87 127.37M656.07 127.37L663.87 119.57" stroke="#EDB120" stroke-width="2.9" fill="none"/><path d="M662.92 86.08L670.72 93.88M662.92 93.88L670.72 86.08" stroke="#EDB120" stroke-width="2.9" fill="none"/><path d="M669.78 58.64L677.58 66.44M669.78 66.44L677.58 58.64" stroke="#EDB120" stroke-width="2.9" fill="none"/><path d="M676.64 38.70L684.44 46.50M676.64 46.50L684.44 38.70" stroke="#EDB120" stroke-width="2.9" fill="none"/><path d="M683.50 27.40L691.30 35.20M683.50 35.20L691.30 27.40" stroke="#EDB120" stroke-width="2.9" fill="none"/></g><g clip-path="url(#c)"><path d="M77.00 249.75L83.86 238.27L90.72 226.77L97.58 215.77L104.43 205.80L111.29 197.34L118.15 190.82L125.01 186.60L131.87 184.95L138.73 186.03L145.58 189.87L152.44 196.38L159.30 205.35L166.16 216.46L173.02 229.25L179.88 243.21L186.73 257.72L193.59 272.15L200.45 285.83L207.31 298.12L214.17 308.41L221.03 316.17L227.89 320.96L234.74 322.47L241.60 320.54L248.46 315.13L255.32 306.38L262.18 294.60L269.04 280.21L275.89 263.80L282.75 246.05L289.61 227.72L296.47 209.64L303.33 192.64L310.19 177.53L317.04 165.05L323.90 155.87L330.76 150.50L337.62 149.30L344.48 152.48L351.34 160.01L358.20 171.69L365.05 187.13L371.91 205.74L378.77 226.76L385.63 249.31L392.49 272.42L399.35 295.04L406.20 316.14L413.06 334.69L419.92 349.77L426.78 360.58L433.64 366.50L440.50 367.09L447.36 362.17L454.21 351.78L461.07 336.23L467.93 316.06L474.79 292.04L481.65 265.16L488.51 236.54L495.36 207.44L502.22 179.16L509.08 153.04L515.94 130.32L522.80 112.15L529.66 99.51L536.51 93.14L543.37 93.54L550.23 100.90L557.09 115.10L563.95 135.72L570.81 162.02L577.67 192.97L584.52 227.31L591.38 263.58L598.24 300.19L605.10 335.47L611.96 367.78L618.82 395.54L625.67 417.35L632.53 432.02L639.39 438.65L646.25 436.69L653.11 425.96L659.97 406.67L666.82 379.43L673.68 345.22L680.54 305.40L687.40 261.59" stroke="#7E2F8E" stroke-width="2.9" fill="none" stroke-linejoin="round"/><rect x="72.90" y="245.65" width="8.20" height="8.20" fill="none" stroke="#7E2F8E" stroke-width="2.9"/><rect x="79.76" y="234.17" width="8.20" height="8.20" fill="none" stroke="#7E2F8E" stroke-width="2.9"/><rect x="86.62" y="222.67" width="8.20" height="8.20" fill="none" stroke="#7E2F8E" stroke-width="2.9"/><rect x="93.48" y="211.67" width="8.20" height="8.20" fill="none" stroke="#7E2F8E" stroke-width="2.9"/><rect x="100.33" y="201.70" width="8.20" height="8.20" fill="none" stroke="#7E2F8E" stroke-width="2.9"/><rect x="107.19" y="193.24" width="8.20" height="8.20" fill="none" stroke="#7E2F8E" stroke-width="2.9"/><rect x="114.05" y="186.72" width="8.20" height="8.20" fill="none" stroke="#7E2F8E" stroke-width="2.9"/><rect x="120.91" y="182.50" width="8.20" height="8.20" fill="none" stroke="#7E2F8E" stroke-width="2.9"/><rect x="127.77" y="180.85" width="8.20" height="8.20" fill="none" stroke="#7E2F8E" stroke-width="2.9"/><rect x="134.63" y="181.93" width="8.20" height="8.20" fill="none" stroke="#7E2F8E" stroke-width="2.9"/><rect x="141.48" y="185.77" width="8.20" height="8.20" fill="none" stroke="#7E2F8E" stroke-width="2.9"/><rect x="148.34" y="192.28" width="8.20" height="8.20" fill="none" stroke="#7E2F8E" stroke-width="2.9"/><rect x="155.20" y="201.25" width="8.20" height="8.20" fill="none" stroke="#7E2F8E" stroke-width="2.9"/><rect x="162.06" y="212.36" width="8.20" height="8.20" fill="none" stroke="#7E2F8E" stroke-width="2.9"/><rect x="168.92" y="225.15" width="8.20" height="8.20" fill="none" stroke="#7E2F8E" stroke-width="2.9"/><rect x="175.78" y="239.11" width="8.20" height="8.20" fill="none" stroke="#7E2F8E" stroke-width="2.9"/><rect x="182.63" y="253.62" width="8.20" height="8.20" fill="none" stroke="#7E2F8E" stroke-width="2.9"/><rect x="189.49" y="268.05" width="8.20" height="8.20" fill="none" stroke="#7E2F8E" stroke-width="2.9"/><rect x="196.35" y="281.73" width="8.20" height="8.20" fill="none" stroke="#7E2F8E" stroke-width="2.9"/><rect x="203.21" y="294.02" width="8.20" height="8.20" fill="none" stroke="#7E2F8E" stroke-width="2.9"/><rect x="210.07" y="304.31" width="8.20" height="8.20" fill="none" stroke="#7E2F8E" stroke-width="2.9"/><rect x="216.93" y="312.07" width="8.20" height="8.20" fill="none" stroke="#7E2F8E" stroke-width="2.9"/><rect x="223.79" y="316.86" width="8.20" height="8.20" fill="none" stroke="#7E2F8E" stroke-width="2.9"/><rect x="230.64" y="318.37" width="8.20" height="8.20" fill="none" stroke="#7E2F8E" stroke-width="2.9"/><rect x="237.50" y="316.44" width="8.20" height="8.20" fill="none" stroke="#7E2F8E" stroke-width="2.9"/><rect x="244.36" y="311.03" width="8.20" height="8.20" fill="none" stroke="#7E2F8E" stroke-width="2.9"/><rect x="251.22" y="302.28" width="8.20" height="8.20" fill="none" stroke="#7E2F8E" stroke-width="2.9"/><rect x="258.08" y="290.50" width="8.20" height="8.20" fill="none" stroke="#7E2F8E" stroke-width="2.9"/><rect x="264.94" y="276.11" width="8.20" height="8.20" fill="none" stroke="#7E2F8E" stroke-width="2.9"/><rect x="271.79" y="259.70" width="8.20" height="8.20" fill="none" stroke="#7E2F8E" stroke-width="2.9"/><rect x="278.65" y="241.95" width="8.20" height="8.20" fill="none" stroke="#7E2F8E" stroke-width="2.9"/><rect x="285.51" y="223.62" width="8.20" height="8.20" fill="none" stroke="#7E2F8E" stroke-width="2.9"/><rect x="292.37" y="205.54" width="8.20" height="8.20" fill="none" stroke="#7E2F8E" stroke-width="2.9"/><rect x="299.23" y="188.54" width="8.20" height="8.20" fill="none" stroke="#7E2F8E" stroke-width="2.9"/><rect x="306.09" y="173.43" width="8.20" height="8.20" fill="none" stroke="#7E2F8E" stroke-width="2.9"/><rect x="312.94" y="160.95" width="8.20" height="8.20" fill="none" stroke="#7E2F8E" stroke-width="2.9"/><rect x="319.80" y="151.77" width="8.20" height="8.20" fill="none" stroke="#7E2F8E" stroke-width="2.9"/><rect x="326.66" y="146.40" width="8.20" height="8.20" fill="none" stroke="#7E2F8E" stroke-width="2.9"/><rect x="333.52" y="145.20" width="8.20" height="8.20" fill="none" stroke="#7E2F8E" stroke-width="2.9"/><rect x="340.38" y="148.38" width="8.20" height="8.20" fill="none" stroke="#7E2F8E" stroke-width="2.9"/><rect x="347.24" y="155.91" width="8.20" height="8.20" fill="none" stroke="#7E2F8E" stroke-width="2.9"/><rect x="354.10" y="167.59" width="8.20" height="8.20" fill="none" stroke="#7E2F8E" stroke-width="2.9"/><rect x="360.95" y="183.03" width="8.20" height="8.20" fill="none" stroke="#7E2F8E" stroke-width="2.9"/><rect x="367.81" y="201.64" width="8.20" height="8.20" fill="none" stroke="#7E2F8E" stroke-width="2.9"/><rect x="374.67" y="222.66" width="8.20" height="8.20" fill="none" stroke="#7E2F8E" stroke-width="2.9"/><rect x="381.53" y="245.21" width="8.20" height="8.20" fill="none" stroke="#7E2F8E" stroke-width="2.9"/><rect x="388.39" y="268.32" width="8.20" height="8.20" fill="none" stroke="#7E2F8E" stroke-width="2.9"/><rect x="395.25" y="290.94" width="8.20" height="8.20" fill="none" stroke="#7E2F8E" stroke-width="2.9"/><rect x="402.10" y="312.04" width="8.20" height="8.20" fill="none" stroke="#7E2F8E" stroke-width="2.9"/><rect x="408.96" y="330.59" width="8.20" height="8.20" fill="none" stroke="#7E2F8E" stroke-width="2.9"/><rect x="415.82" y="345.67" width="8.20" height="8.20" fill="none" stroke="#7E2F8E" stroke-width="2.9"/><rect x="422.68" y="356.48" width="8.20" height="8.20" fill="none" stroke="#7E2F8E" stroke-width="2.9"/><rect x="429.54" y="362.40" width="8.20" height="8.20" fill="none" stroke="#7E2F8E" stroke-width="2.9"/><rect x="436.40" y="362.99" width="8.20" height="8.20" fill="none" stroke="#7E2F8E" stroke-width="2.9"/><rect x="443.26" y="358.07" width="8.20" height="8.20" fill="none" stroke="#7E2F8E" stroke-width="2.9"/><rect x="450.11" y="347.68" width="8.20" height="8.20" fill="none" stroke="#7E2F8E" stroke-width="2.9"/><rect x="456.97" y="332.13" width="8.20" height="8.20" fill="none" stroke="#7E2F8E" stroke-width="2.9"/><rect x="463.83" y="311.96" width="8.20" height="8.20" fill="none" stroke="#7E2F8E" stroke-width="2.9"/><rect x="470.69" y="287.94" width="8.20" height="8.20" fill="none" stroke="#7E2F8E" stroke-width="2.9"/><rect x="477.55" y="261.06" width="8.20" height="8.20" fill="none" stroke="#7E2F8E" stroke-width="2.9"/><rect x="484.41" y="232.44" width="8.20" height="8.20" fill="none" stroke="#7E2F8E" stroke-width="2.9"/><rect x="491.26" y="203.34" width="8.20" height="8.20" fill="none" stroke="#7E2F8E" stroke-width="2.9"/><rect x="498.12" y="175.06" width="8.20" height="8.20" fill="none" stroke="#7E2F8E" stroke-width="2.9"/><rect x="504.98" y="148.94" width="8.20" height="8.20" fill="none" stroke="#7E2F8E" stroke-width="2.9"/><rect x="511.84" y="126.22" width="8.20" height="8.20" fill="none" stroke="#7E2F8E" stroke-width="2.9"/><rect x="518.70" y="108.05" width="8.20" height="8.20" fill="none" stroke="#7E2F8E" stroke-width="2.9"/><rect x="525.56" y="95.41" width="8.20" height="8.20" fill="none" stroke="#7E2F8E" stroke-width="2.9"/><rect x="532.41" y="89.04" width="8.20" height="8.20" fill="none" stroke="#7E2F8E" stroke-width="2.9"/><rect x="539.27" y="89.44" width="8.20" height="8.20" fill="none" stroke="#7E2F8E" stroke-width="2.9"/><rect x="546.13" y="96.80" width="8.20" height="8.20" fill="none" stroke="#7E2F8E" stroke-width="2.9"/><rect x="552.99" y="111.00" width="8.20" height="8.20" fill="none" stroke="#7E2F8E" stroke-width="2.9"/><rect x="559.85" y="131.62" width="8.20" height="8.20" fill="none" stroke="#7E2F8E" stroke-width="2.9"/><rect x="566.71" y="157.92" width="8.20" height="8.20" fill="none" stroke="#7E2F8E" stroke-width="2.9"/><rect x="573.57" y="188.87" width="8.20" height="8.20" fill="none" stroke="#7E2F8E" stroke-width="2.9"/><rect x="580.42" y="223.21" width="8.20" height="8.20" fill="none" stroke="#7E2F8E" stroke-width="2.9"/><rect x="587.28" y="259.48" width="8.20" height="8.20" fill="none" stroke="#7E2F8E" stroke-width="2.9"/><rect x="594.14" y="296.09" width="8.20" height="8.20" fill="none" stroke="#7E2F8E" stroke-width="2.9"/><rect x="601.00" y="331.37" width="8.20" height="8.20" fill="none" stroke="#7E2F8E" stroke-width="2.9"/><rect x="607.86" y="363.68" width="8.20" height="8.20" fill="none" stroke="#7E2F8E" stroke-width="2.9"/><rect x="614.72" y="391.44" width="8.20" height="8.20" fill="none" stroke="#7E2F8E" stroke-width="2.9"/><rect x="621.57" y="413.25" width="8.20" height="8.20" fill="none" stroke="#7E2F8E" stroke-width="2.9"/><rect x="628.43" y="427.92" width="8.20" height="8.20" fill="none" stroke="#7E2F8E" stroke-width="2.9"/><rect x="635.29" y="434.55" width="8.20" height="8.20" fill="none" stroke="#7E2F8E" stroke-width="2.9"/><rect x="642.15" y="432.59" width="8.20" height="8.20" fill="none" stroke="#7E2F8E" stroke-width="2.9"/><rect x="649.01" y="421.86" width="8.20" height="8.20" fill="none" stroke="#7E2F8E" stroke-width="2.9"/><rect x="655.87" y="402.57" width="8.20" height="8.20" fill="none" stroke="#7E2F8E" stroke-width="2.9"/><rect x="662.72" y="375.33" width="8.20" height="8.20" fill="none" stroke="#7E2F8E" stroke-width="2.9"/><rect x="669.58" y="341.12" width="8.20" height="8.20" fill="none" stroke="#7E2F8E" stroke-width="2.9"/><rect x="676.44" y="301.30" width="8.20" height="8.20" fill="none" stroke="#7E2F8E" stroke-width="2.9"/><rect x="683.30" y="257.49" width="8.20" height="8.20" fill="none" stroke="#7E2F8E" stroke-width="2.9"/></g><text x="67.3" y="492.05" font-size="26.5" font-weight="bold" text-anchor="end" fill="#1a1a1a">-30</text><text x="67.3" y="413.18" font-size="26.5" font-weight="bold" text-anchor="end" fill="#1a1a1a">-20</text><text x="67.3" y="334.32" font-size="26.5" font-weight="bold" text-anchor="end" fill="#1a1a1a">-10</text><text x="67.3" y="255.45" font-size="26.5" font-weight="bold" text-anchor="end" fill="#1a1a1a">0</text><text x="67.3" y="176.58" font-size="26.5" font-weight="bold" text-anchor="end" fill="#1a1a1a">10</text><text x="67.3" y="97.72" font-size="26.5" font-weight="bold" text-anchor="end" fill="#1a1a1a">20</text><text x="67.3" y="18.85" font-size="26.5" font-weight="bold" text-anchor="end" fill="#1a1a1a">30</text><text x="76.60" y="516.1" font-size="26.5" font-weight="bold" text-anchor="middle" fill="#1a1a1a">0</text><text x="178.33" y="516.1" font-size="26.5" font-weight="bold" text-anchor="middle" fill="#1a1a1a">15</text><text x="280.07" y="516.1" font-size="26.5" font-weight="bold" text-anchor="middle" fill="#1a1a1a">30</text><text x="381.80" y="516.1" font-size="26.5" font-weight="bold" text-anchor="middle" fill="#1a1a1a">45</text><text x="483.53" y="516.1" font-size="26.5" font-weight="bold" text-anchor="middle" fill="#1a1a1a">60</text><text x="585.27" y="516.1" font-size="26.5" font-weight="bold" text-anchor="middle" fill="#1a1a1a">75</text><text x="687.70" y="516.1" font-size="26.5" font-weight="bold" text-anchor="middle" fill="#1a1a1a">90</text><text x="381.8" y="549" font-size="29.05" font-weight="bold" text-anchor="middle" fill="#1a1a1a">Point of oscillation trajectory</text><text transform="translate(20.7,245.75) rotate(-90)" font-size="29.1" font-weight="bold" text-anchor="middle" fill="#1a1a1a">Force magnitude(N)</text><rect x="94.8" y="21.6" width="449.90000000000003" height="50.4" fill="#fff" stroke="#404040" stroke-width="1.3"/><path d="M101.3 46.9H157.5" stroke="#0072BD" stroke-width="2.9"/><circle cx="129.80" cy="46.90" r="5.55" fill="none" stroke="#0072BD" stroke-width="2.9"/><g transform="translate(0,0)" fill="none" stroke="#111" stroke-linecap="round" stroke-linejoin="round"><path d="M179.2 35.5C178.9 33.9 177.6 33.5 176.5 34.5C175.3 35.7 174.4 38.0 173.1 42.4C171.9 46.4 170.9 50.0 169.7 52.4C168.8 54.2 167.4 55.3 165.9 54.3" stroke-width="1.8"/><path d="M175.0 37.2C174.3 39.0 173.8 40.4 173.1 42.4C171.9 46.4 171.1 49.2 170.2 51.2" stroke-width="3.9"/><path d="M170.2 39.9H178.5" stroke-width="1.8" stroke-linecap="butt"/><circle cx="179.3" cy="35.8" r="1.25" fill="#111" stroke-width="0.8"/><circle cx="165.7" cy="53.8" r="1.3" fill="#111" stroke-width="0.8"/></g><text x="177.7" y="62.2" font-size="20.2" fill="#111">1<tspan dx="-1.1">,</tspan><tspan dx="0.1" dy="-0.4" font-size="17.2" font-style="italic">y</tspan></text><path d="M211.3 46.9H267.5" stroke="#D95319" stroke-width="2.9"/><path d="M234.20 46.90H245.40M239.80 41.30V52.50M235.84 42.94L243.76 50.86M235.84 50.86L243.76 42.94" stroke="#D95319" stroke-width="2.9" fill="none"/><g transform="translate(110,0)" fill="none" stroke="#111" stroke-linecap="round" stroke-linejoin="round"><path d="M179.2 35.5C178.9 33.9 177.6 33.5 176.5 34.5C175.3 35.7 174.4 38.0 173.1 42.4C171.9 46.4 170.9 50.0 169.7 52.4C168.8 54.2 167.4 55.3 165.9 54.3" stroke-width="1.8"/><path d="M175.0 37.2C174.3 39.0 173.8 40.4 173.1 42.4C171.9 46.4 171.1 49.2 170.2 51.2" stroke-width="3.9"/><path d="M170.2 39.9H178.5" stroke-width="1.8" stroke-linecap="butt"/><circle cx="179.3" cy="35.8" r="1.25" fill="#111" stroke-width="0.8"/><circle cx="165.7" cy="53.8" r="1.3" fill="#111" stroke-width="0.8"/></g><text x="287.7" y="62.2" font-size="20.2" fill="#111">2<tspan dx="-1.1">,</tspan><tspan dx="0.1" dy="-0.4" font-size="17.2" font-style="italic">y</tspan></text><path d="M321.3 46.9H377.5" stroke="#EDB120" stroke-width="2.9"/><path d="M345.90 43.00L353.70 50.80M345.90 50.80L353.70 43.00" stroke="#EDB120" stroke-width="2.9" fill="none"/><g transform="translate(220,0)" fill="none" stroke="#111" stroke-linecap="round" stroke-linejoin="round"><path d="M179.2 35.5C178.9 33.9 177.6 33.5 176.5 34.5C175.3 35.7 174.4 38.0 173.1 42.4C171.9 46.4 170.9 50.0 169.7 52.4C168.8 54.2 167.4 55.3 165.9 54.3" stroke-width="1.8"/><path d="M175.0 37.2C174.3 39.0 173.8 40.4 173.1 42.4C171.9 46.4 171.1 49.2 170.2 51.2" stroke-width="3.9"/><path d="M170.2 39.9H178.5" stroke-width="1.8" stroke-linecap="butt"/><circle cx="179.3" cy="35.8" r="1.25" fill="#111" stroke-width="0.8"/><circle cx="165.7" cy="53.8" r="1.3" fill="#111" stroke-width="0.8"/></g><text x="397.7" y="62.2" font-size="20.2" fill="#111">3<tspan dx="-1.1">,</tspan><tspan dx="0.1" dy="-0.4" font-size="17.2" font-style="italic">y</tspan></text><path d="M431.3 46.9H487.5" stroke="#7E2F8E" stroke-width="2.9"/><rect x="455.70" y="42.80" width="8.20" height="8.20" fill="none" stroke="#7E2F8E" stroke-width="2.9"/><g transform="translate(330,0)" fill="none" stroke="#111" stroke-linecap="round" stroke-linejoin="round"><path d="M179.2 35.5C178.9 33.9 177.6 33.5 176.5 34.5C175.3 35.7 174.4 38.0 173.1 42.4C171.9 46.4 170.9 50.0 169.7 52.4C168.8 54.2 167.4 55.3 165.9 54.3" stroke-width="1.8"/><path d="M175.0 37.2C174.3 39.0 173.8 40.4 173.1 42.4C171.9 46.4 171.1 49.2 170.2 51.2" stroke-width="3.9"/><path d="M170.2 39.9H178.5" stroke-width="1.8" stroke-linecap="butt"/><circle cx="179.3" cy="35.8" r="1.25" fill="#111" stroke-width="0.8"/><circle cx="165.7" cy="53.8" r="1.3" fill="#111" stroke-width="0.8"/></g><text x="507.7" y="62.2" font-size="20.2" fill="#111">4<tspan dx="-1.1">,</tspan><tspan dx="0.1" dy="-0.4" font-size="17.2" font-style="italic">y</tspan></text></svg></body></html>
